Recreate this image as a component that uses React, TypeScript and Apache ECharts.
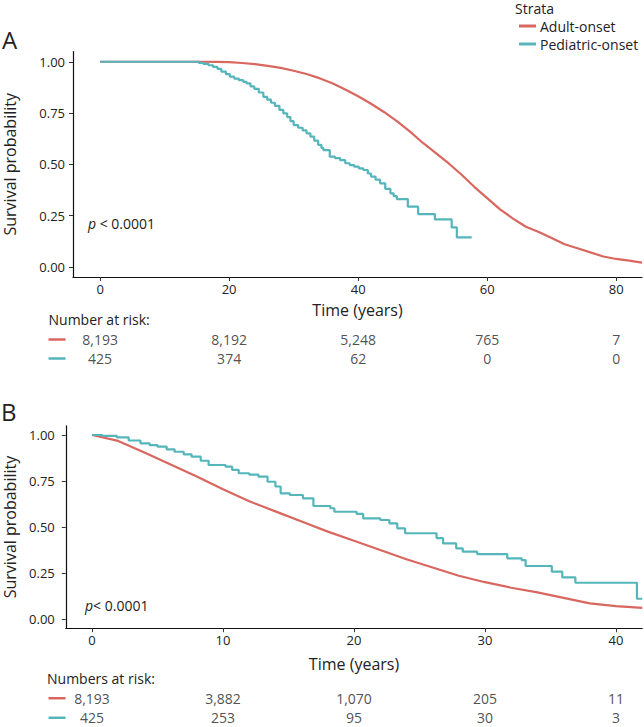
import React, { useEffect, useRef } from "react";
import * as echarts from "echarts";

const RED = "#D9675F";
const TEAL = "#54B5BA";

const timeTicksA = [0, 20, 40, 60, 80];
const timeTicksB = [0, 10, 20, 30, 40];
const survTicks = [0, 0.25, 0.5, 0.75, 1];

// Panel A: Kaplan-Meier curves [time, survival]
const adultCurveA = [
  [0, 1], [15, 1], [18, 0.999], [20, 0.998], [22, 0.994], [24, 0.988], [26, 0.98], [28, 0.97],
  [30, 0.956], [32, 0.94], [34, 0.92], [36, 0.895], [38, 0.865], [40, 0.832], [42, 0.795],
  [44, 0.755], [46, 0.71], [48, 0.66], [50, 0.605], [52, 0.555], [54, 0.505], [56, 0.45],
  [58, 0.39], [60, 0.335], [62, 0.28], [64, 0.235], [66, 0.195], [68, 0.17], [70, 0.14],
  [72, 0.11], [74, 0.09], [76, 0.07], [78, 0.05], [80, 0.038], [82, 0.03], [84, 0.02],
];
const pediatricCurveA = [
  [0, 1], [14.5, 1], [15.3, 0.995], [16.0, 0.99], [16.8, 0.983], [17.5, 0.975], [18.2, 0.965],
  [18.8, 0.952], [19.5, 0.94], [20.1, 0.927], [20.8, 0.918], [21.5, 0.91], [22.2, 0.902],
  [22.7, 0.895], [23.3, 0.88], [23.9, 0.868], [24.6, 0.85], [25.3, 0.829], [25.9, 0.815],
  [26.5, 0.8], [27.1, 0.785], [27.8, 0.765], [28.4, 0.748], [29.0, 0.73], [29.5, 0.71],
  [30.0, 0.691], [30.7, 0.678], [31.4, 0.665], [32.0, 0.651], [32.6, 0.635], [33.2, 0.615],
  [33.8, 0.595], [34.3, 0.58], [34.6, 0.569], [35.6, 0.537], [36.4, 0.53], [37.2, 0.52],
  [38.0, 0.505], [38.7, 0.496], [39.4, 0.488], [40.1, 0.48], [40.8, 0.472], [41.5, 0.455],
  [42.0, 0.44], [42.7, 0.425], [43.4, 0.407], [44.2, 0.38], [45.0, 0.358], [45.5, 0.345],
  [46.0, 0.33], [47.7, 0.293], [49.3, 0.257], [51.9, 0.231], [54.5, 0.192], [55.3, 0.143],
  [57.6, 0.143],
];

// Panel B
const adultCurveB = [
  [0, 1], [2, 0.968], [4, 0.905], [6, 0.84], [8, 0.775], [10, 0.705], [12, 0.64], [14, 0.585],
  [16, 0.53], [18, 0.475], [20, 0.425], [22, 0.375], [24, 0.325], [26, 0.28], [28, 0.235],
  [30, 0.2], [32, 0.17], [34, 0.145], [36, 0.115], [38, 0.085], [40, 0.07], [42, 0.06],
];
const pediatricCurveB = [
  [0, 1], [0.8, 0.995], [1.9, 0.987], [2.8, 0.97], [3.7, 0.955], [4.4, 0.945], [5.0, 0.937],
  [5.7, 0.922], [6.3, 0.909], [7.0, 0.895], [7.6, 0.882], [8.3, 0.86], [8.9, 0.837],
  [10.2, 0.828], [10.7, 0.81], [11.2, 0.792], [12.0, 0.785], [12.7, 0.774], [13.4, 0.746],
  [14.0, 0.72], [14.4, 0.683], [15.1, 0.674], [16.1, 0.656], [16.9, 0.614], [18.2, 0.602],
  [18.5, 0.583], [20.2, 0.571], [20.7, 0.547], [22.0, 0.538], [22.7, 0.52], [23.3, 0.493],
  [23.9, 0.466], [26.3, 0.44], [26.8, 0.411], [27.8, 0.384], [28.3, 0.366], [29.4, 0.353],
  [31.7, 0.33], [32.8, 0.32], [33.1, 0.288], [35.1, 0.257], [35.9, 0.226], [36.9, 0.197],
  [41.6, 0.11], [42, 0.11],
];

// Numbers at risk
const riskAdultA = [8193, 8192, 5248, 765, 7];
const riskPediatricA = [425, 374, 62, 0, 0];
const riskAdultB = [8193, 3882, 1070, 205, 11];
const riskPediatricB = [425, 253, 95, 30, 3];

const FONT = "Open Sans";
const TXT = "#222";

const fmt = (v: number) => v.toLocaleString("en-US");

function mainAxes(
  gridIndex: number,
  xmin: number,
  xmax: number,
  xticks: number[],
  xNameGap: number,
  yNameGap: number,
  yLabelMargin: number
) {
  const axisLine = { show: true, onZero: false, lineStyle: { color: "#111", width: 1.2 } };
  const axisTick = { show: true, length: 4, lineStyle: { color: "#333", width: 1 } };
  const x = {
    type: "value",
    gridIndex,
    min: xmin,
    max: xmax,
    axisLine,
    axisTick: { ...axisTick, customValues: xticks },
    axisLabel: {
      customValues: xticks,
      color: TXT,
      fontFamily: FONT,
      fontSize: 13,
      margin: 5,
    },
    splitLine: { show: false },
    name: "Time (years)",
    nameLocation: "middle",
    nameGap: xNameGap,
    nameTextStyle: { color: TXT, fontFamily: FONT, fontSize: 16 },
  };
  const y = {
    type: "value",
    gridIndex,
    min: -0.05,
    max: 1.05,
    axisLine,
    axisTick: { ...axisTick, customValues: survTicks },
    axisLabel: {
      customValues: survTicks,
      formatter: (v: number) => v.toFixed(2),
      color: TXT,
      fontFamily: FONT,
      fontSize: 13,
      margin: yLabelMargin,
    },
    splitLine: { show: false },
    name: "Survival probability",
    nameLocation: "middle",
    nameGap: yNameGap,
    nameTextStyle: { color: TXT, fontFamily: FONT, fontSize: 16 },
  };
  return { x, y };
}

function riskAxes(gridIndex: number, xmin: number, xmax: number) {
  return {
    x: { type: "value", gridIndex, min: xmin, max: xmax, show: false },
    y: {
      type: "category",
      gridIndex,
      data: ["Adult-onset", "Pediatric-onset"],
      inverse: true,
      show: false,
    },
  };
}

function curveSeries(name: string, data: number[][], color: string, idx: number, step: boolean) {
  return {
    type: "line",
    name,
    data,
    xAxisIndex: idx,
    yAxisIndex: idx,
    step: step ? "end" : false,
    showSymbol: false,
    symbol: "none",
    lineStyle: { color, width: 2.2 },
    itemStyle: { color },
    silent: true,
  };
}

function riskSeries(name: string, times: number[], values: number[], row: string, idx: number) {
  return {
    type: "scatter",
    name,
    xAxisIndex: idx,
    yAxisIndex: idx,
    symbolSize: 0,
    silent: true,
    data: times.map((t, i) => [t, row, values[i]]),
    label: {
      show: true,
      position: "inside",
      formatter: (p: any) => fmt(p.data[2]),
      color: TXT,
      fontFamily: FONT,
      fontSize: 14,
    },
  };
}

export default function App() {
  const ref = useRef<HTMLDivElement>(null);
  useEffect(() => {
    if (!ref.current) return;
    const chart = echarts.init(ref.current, null, { renderer: "svg" });
    const a = mainAxes(0, -4.2, 84, timeTicksA, 25, 55, 8);
    const ra = riskAxes(1, -4.2, 84);
    const b = mainAxes(2, -2, 42, timeTicksB, 28, 48, 11);
    const rb = riskAxes(3, -2, 42);

    const dash = (y: number, color: string) => ({
      type: "line",
      shape: { x1: 48.5, y1: y, x2: 65.5, y2: y },
      style: { stroke: color, lineWidth: 2.5 },
    });
    const txt = (x: number, y: number, text: string, size: number, extra: any = {}) => ({
      type: "text",
      x,
      y,
      style: {
        text,
        fill: TXT,
        fontFamily: FONT,
        fontSize: size,
        verticalAlign: "middle",
        align: "left",
        ...extra,
      },
    });
    const gridBase = { containLabel: false, outerBoundsMode: "none" };

    chart.setOption({
      animation: false,
      backgroundColor: "#fff",
      grid: [
        { ...gridBase, left: 73, top: 51.5, width: 569, height: 225.5 },
        { ...gridBase, left: 73, top: 330, width: 569, height: 38 },
        { ...gridBase, left: 65.8, top: 425.8, width: 576.4, height: 202.4 },
        { ...gridBase, left: 65.8, top: 688.5, width: 576.4, height: 39 },
      ],
      xAxis: [a.x, ra.x, b.x, rb.x],
      yAxis: [a.y, ra.y, b.y, rb.y],
      legend: {
        data: ["Adult-onset", "Pediatric-onset"],
        orient: "vertical",
        left: 514,
        top: 14,
        itemWidth: 17,
        itemHeight: 3,
        itemGap: 4,
        icon: "rect",
        selectedMode: false,
        textStyle: { color: TXT, fontFamily: FONT, fontSize: 14, padding: [0, 0, 0, -1] },
      },
      series: [
        curveSeries("Adult-onset", adultCurveA, RED, 0, false),
        curveSeries("Pediatric-onset", pediatricCurveA, TEAL, 0, true),
        riskSeries("riskA1", timeTicksA, riskAdultA, "Adult-onset", 1),
        riskSeries("riskA2", timeTicksA, riskPediatricA, "Pediatric-onset", 1),
        curveSeries("Adult-onset", adultCurveB, RED, 2, false),
        curveSeries("Pediatric-onset", pediatricCurveB, TEAL, 2, true),
        riskSeries("riskB1", timeTicksB, riskAdultB, "Adult-onset", 3),
        riskSeries("riskB2", timeTicksB, riskPediatricB, "Pediatric-onset", 3),
      ],
      graphic: [
        txt(2, 39, "A", 24),
        txt(1, 411, "B", 24),
        txt(515, 8.5, "Strata", 14),
        {
          type: "text",
          x: 88,
          y: 223,
          style: {
            text: "{i|p} < 0.0001",
            fill: TXT,
            fontFamily: FONT,
            fontSize: 14,
            verticalAlign: "middle",
            rich: { i: { fontStyle: "italic", fontFamily: FONT, fontSize: 14, fill: TXT } },
          },
        },
        {
          type: "text",
          x: 85,
          y: 605,
          style: {
            text: "{i|p}< 0.0001",
            fill: TXT,
            fontFamily: FONT,
            fontSize: 14,
            verticalAlign: "middle",
            rich: { i: { fontStyle: "italic", fontFamily: FONT, fontSize: 14, fill: TXT } },
          },
        },
        txt(48.5, 319, "Number at risk:", 14),
        txt(47, 678, "Numbers at risk:", 14),
        dash(339.5, RED),
        dash(358.5, TEAL),
        dash(698.25, RED),
        dash(717.75, TEAL),
      ],
    });
    return () => chart.dispose();
  }, []);
  return (
    <div
      ref={ref}
      style={{ position: "fixed", left: 0, top: 0, width: 644, height: 727, background: "#fff" }}
    />
  );
}
